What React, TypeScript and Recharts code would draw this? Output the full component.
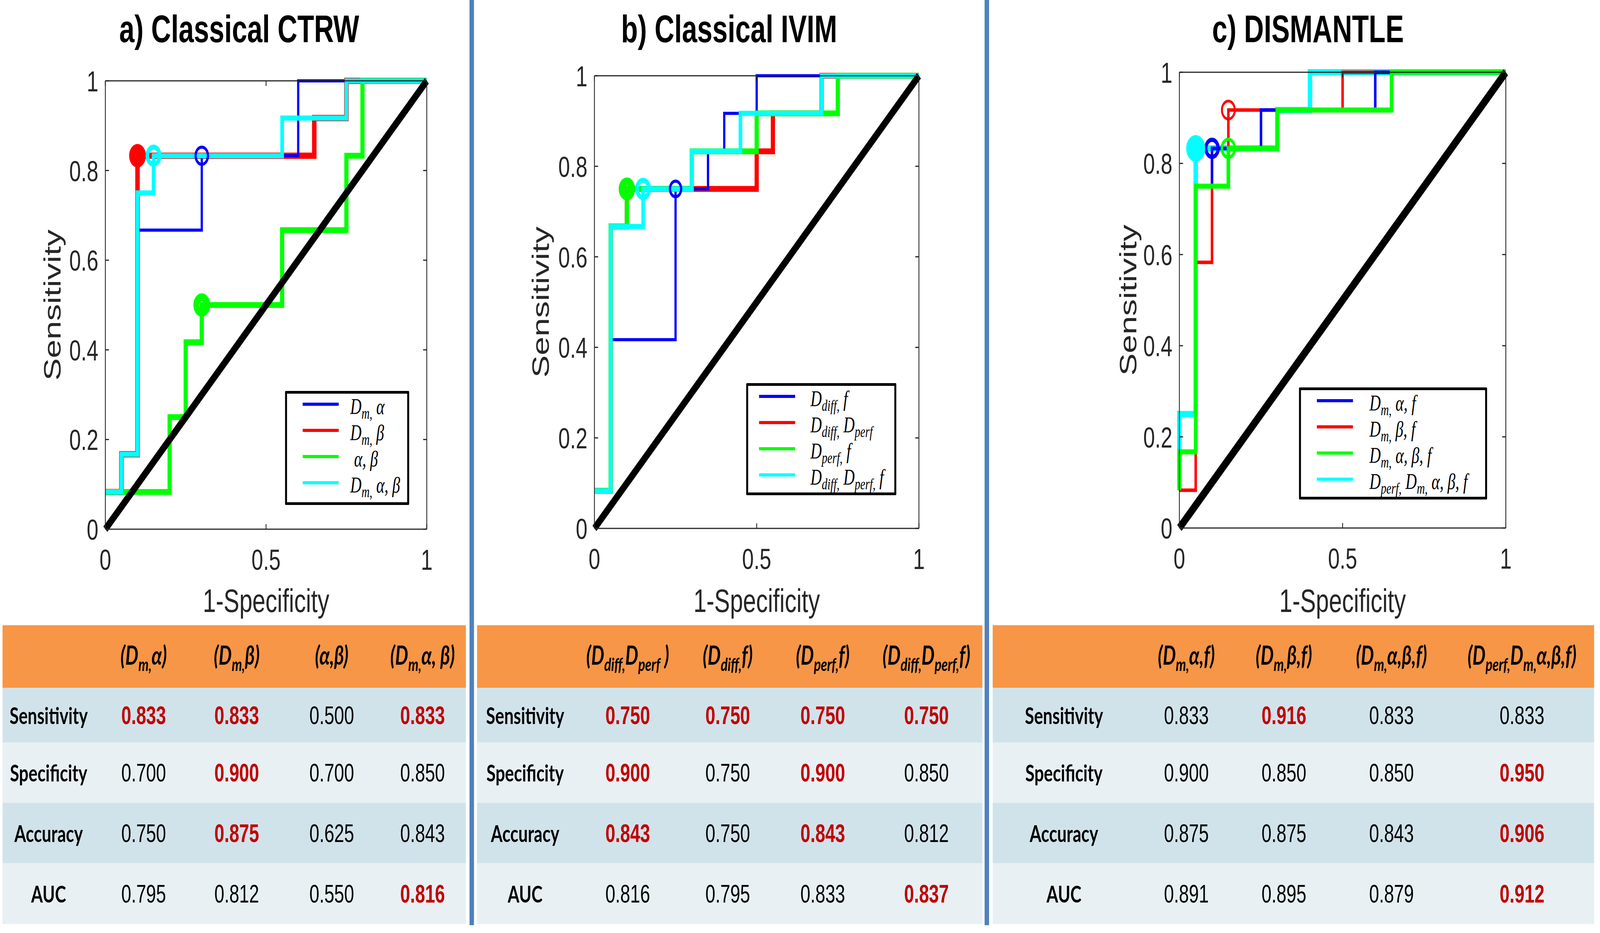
import React from 'react';
import { ComposedChart, Line, Scatter, XAxis, YAxis, Legend } from 'recharts';

type Pt = { x: number; y: number };
const toPts = (a: number[][]): Pt[] => a.map(([x, y]) => ({ x, y }));

const X_TICKS = [0, 0.5, 1];
const Y_TICKS = [0, 0.2, 0.4, 0.6, 0.8, 1];
const DIAGONAL = toPts([[0, 0], [1, 1]]);

// a) Classical CTRW - ROC corners
const ctrwDmAlpha = [[0, 0.083], [0.05, 0.083], [0.05, 0.167], [0.1, 0.167], [0.1, 0.667], [0.3, 0.667], [0.3, 0.833], [0.6, 0.833], [0.6, 1], [1, 1]];
const ctrwDmBeta = [[0, 0.083], [0.05, 0.083], [0.05, 0.167], [0.1, 0.167], [0.1, 0.833], [0.65, 0.833], [0.65, 0.917], [0.75, 0.917], [0.75, 1], [1, 1]];
const ctrwAlphaBeta = [[0, 0.083], [0.2, 0.083], [0.2, 0.25], [0.25, 0.25], [0.25, 0.417], [0.3, 0.417], [0.3, 0.5], [0.55, 0.5], [0.55, 0.667], [0.75, 0.667], [0.75, 0.833], [0.8, 0.833], [0.8, 1], [1, 1]];
const ctrwDmAlphaBeta = [[0, 0.083], [0.05, 0.083], [0.05, 0.167], [0.1, 0.167], [0.1, 0.75], [0.15, 0.75], [0.15, 0.833], [0.55, 0.833], [0.55, 0.917], [0.75, 0.917], [0.75, 1], [1, 1]];
const ctrwOperating = [[0.3, 0.833], [0.1, 0.833], [0.3, 0.5], [0.15, 0.833]];

// b) Classical IVIM
const ivimDiffF = [[0, 0.083], [0.05, 0.083], [0.05, 0.417], [0.25, 0.417], [0.25, 0.75], [0.35, 0.75], [0.35, 0.833], [0.4, 0.833], [0.4, 0.917], [0.5, 0.917], [0.5, 1], [1, 1]];
const ivimDiffPerf = [[0, 0.083], [0.05, 0.083], [0.05, 0.667], [0.1, 0.667], [0.1, 0.75], [0.5, 0.75], [0.5, 0.833], [0.55, 0.833], [0.55, 0.917], [0.7, 0.917], [0.7, 1], [1, 1]];
const ivimPerfF = [[0, 0.083], [0.05, 0.083], [0.05, 0.667], [0.1, 0.667], [0.1, 0.75], [0.3, 0.75], [0.3, 0.833], [0.5, 0.833], [0.5, 0.917], [0.75, 0.917], [0.75, 1], [1, 1]];
const ivimDiffPerfF = [[0, 0.083], [0.05, 0.083], [0.05, 0.667], [0.15, 0.667], [0.15, 0.75], [0.3, 0.75], [0.3, 0.833], [0.45, 0.833], [0.45, 0.917], [0.7, 0.917], [0.7, 1], [1, 1]];
const ivimOperating = [[0.25, 0.75], [0.1, 0.75], [0.1, 0.75], [0.15, 0.75]];

// c) DISMANTLE
const disDmAlphaF = [[0, 0.083], [0, 0.167], [0.05, 0.167], [0.05, 0.75], [0.1, 0.75], [0.1, 0.833], [0.25, 0.833], [0.25, 0.917], [0.6, 0.917], [0.6, 1], [1, 1]];
const disDmBetaF = [[0, 0.083], [0.05, 0.083], [0.05, 0.583], [0.1, 0.583], [0.1, 0.833], [0.15, 0.833], [0.15, 0.917], [0.5, 0.917], [0.5, 1], [1, 1]];
const disDmAlphaBetaF = [[0, 0.083], [0, 0.167], [0.05, 0.167], [0.05, 0.75], [0.15, 0.75], [0.15, 0.833], [0.3, 0.833], [0.3, 0.917], [0.65, 0.917], [0.65, 1], [1, 1]];
const disAll = [[0, 0.083], [0, 0.25], [0.05, 0.25], [0.05, 0.833], [0.3, 0.833], [0.3, 0.917], [0.4, 0.917], [0.4, 1], [1, 1]];
const disOperating = [[0.1, 0.833], [0.15, 0.917], [0.15, 0.833], [0.05, 0.833]];

// legend labels, _{...} is a subscript
const ctrwLegend = ['D_{m,} α', 'D_{m,} β', ' α, β', 'D_{m,} α, β'];
const ivimLegend = ['D_{diff,} f', 'D_{diff,} D_{perf}', 'D_{perf,} f', 'D_{diff,} D_{perf,} f'];
const disLegend = ['D_{m,} α, f', 'D_{m,} β, f', 'D_{m,} α, β, f', 'D_{perf,} D_{m,} α, β, f'];

// tables
const ROW_LABELS = ['Sensitivity', 'Specificity', 'Accuracy', 'AUC'];
const ctrwHeaders = ['(D_{m,}α)', '(D_{m,}β)', '(α,β)', '(D_{m,}α, β)'];
const ctrwSensitivity = [0.833, 0.833, 0.5, 0.833];
const ctrwSpecificity = [0.7, 0.9, 0.7, 0.85];
const ctrwAccuracy = [0.75, 0.875, 0.625, 0.843];
const ctrwAuc = [0.795, 0.812, 0.55, 0.816];

const ivimHeaders = ['(D_{diff,}D_{perf} )', '(D_{diff,}f)', '(D_{perf,}f)', '(D_{diff,}D_{perf,}f)'];
const ivimSensitivity = [0.75, 0.75, 0.75, 0.75];
const ivimSpecificity = [0.9, 0.75, 0.9, 0.85];
const ivimAccuracy = [0.843, 0.75, 0.843, 0.812];
const ivimAuc = [0.816, 0.795, 0.833, 0.837];

const disHeaders = ['(D_{m,}α,f)', '(D_{m,}β,f)', '(D_{m,}α,β,f)', '(D_{perf,}D_{m,}α,β,f)'];
const disSensitivity = [0.833, 0.916, 0.833, 0.833];
const disSpecificity = [0.9, 0.85, 0.85, 0.95];
const disAccuracy = [0.875, 0.875, 0.843, 0.906];
const disAuc = [0.891, 0.895, 0.879, 0.912];

const FIG_W = 5725;
const FIG_H = 2389;
const COLORS = ['#0000ff', '#ff0000', '#00ff00', '#00ffff'];
const AXIS = '#262626';
const SANS = '"Liberation Sans", Arial, Helvetica, sans-serif';
const SERIF = '"Liberation Serif", "Times New Roman", serif';
const LATO = 'Lato, "Open Sans", sans-serif';
const CHART_H = 1600;
const TICK_LEN = 13;

type Series = { data: Pt[]; op: Pt; color: string; width: number; r: number; sw: number; label: string };

const makeSeries = (curves: number[][][], ops: number[][], labels: string[], widths: number[], marks: number[][]): Series[] =>
  curves.map((c, i) => ({
    data: toPts(c),
    op: { x: ops[i][0], y: ops[i][1] },
    color: COLORS[i],
    width: widths[i],
    r: marks[i][0],
    sw: marks[i][1],
    label: labels[i],
  }));

const PANELS = [
  {
    id: 'a', title: 'a) Classical CTRW', titleX: 856, chartLeft: 0, chartW: 1680,
    plot: { x0: 377, x1: 1527, y0: 207, y1: 1355 }, yLabelX: 217, diagW: 20,
    series: makeSeries([ctrwDmAlpha, ctrwDmBeta, ctrwAlphaBeta, ctrwDmAlphaBeta], ctrwOperating, ctrwLegend,
      [8, 16, 15, 13], [[22, 8], [19, 22], [20, 20], [22, 13]]),
    lineOrder: [1, 0, 2, 3],
    legend: { x: 1020, y: 1001, w: 444, h: 292, sampleX: 1083, textX: 1253 },
  },
  {
    id: 'b', title: 'b) Classical IVIM', titleX: 2609, chartLeft: 1700, chartW: 1820,
    plot: { x0: 2127, x1: 3288, y0: 194, y1: 1353 }, yLabelX: 1964, diagW: 20,
    series: makeSeries([ivimDiffF, ivimDiffPerf, ivimPerfF, ivimDiffPerfF], ivimOperating, ivimLegend,
      [8, 15, 15, 13], [[20, 8], [19, 20], [19, 20], [22, 13]]),
    lineOrder: [1, 0, 2, 3],
    legend: { x: 2670, y: 981, w: 537, h: 287, sampleX: 2716, textX: 2900 },
  },
  {
    id: 'c', title: 'c) DISMANTLE', titleX: 4680, chartLeft: 3545, chartW: 2180,
    plot: { x0: 4220, x1: 5388, y0: 185, y1: 1352 }, yLabelX: 4066, diagW: 22,
    series: makeSeries([disDmAlphaF, disDmBetaF, disDmAlphaBetaF, disAll], disOperating, disLegend,
      [9, 9, 13, 16], [[22, 11], [23, 7], [23, 9], [20, 28]]),
    lineOrder: [3, 1, 0, 2],
    legend: { x: 4648, y: 992, w: 673, h: 287, sampleX: 4712, textX: 4900 },
  },
];

const TABLES = [
  { x0: 9, x1: 1667, labelX: 174, colX: [514, 847, 1187, 1512], headers: ctrwHeaders, rows: [ctrwSensitivity, ctrwSpecificity, ctrwAccuracy, ctrwAuc] },
  { x0: 1707, x1: 3515, labelX: 1879, colX: [2246, 2604, 2944, 3315], headers: ivimHeaders, rows: [ivimSensitivity, ivimSpecificity, ivimAccuracy, ivimAuc] },
  { x0: 3552, x1: 5704, labelX: 3807, colX: [4245, 4594, 4979, 5446], headers: disHeaders, rows: [disSensitivity, disSpecificity, disAccuracy, disAuc] },
];
const HEADER_Y0 = 1601;
const ROW_Y = [1761, 1901, 2056, 2210, 2366];

function rich(label: string) {
  const parts: { t: string; sub: boolean }[] = [];
  const re = /_\{([^}]*)\}/g;
  let last = 0;
  let m: RegExpExecArray | null;
  while ((m = re.exec(label))) {
    if (m.index > last) parts.push({ t: label.slice(last, m.index), sub: false });
    parts.push({ t: m[1], sub: true });
    last = re.lastIndex;
  }
  if (last < label.length) parts.push({ t: label.slice(last), sub: false });
  return parts;
}

function svgRich(label: string, size: number, subSize: number, drop: number) {
  let down = false;
  return rich(label).map((p, i) => {
    let dy = 0;
    if (p.sub && !down) { dy = drop; down = true; }
    else if (!p.sub && down) { dy = -drop; down = false; }
    return <tspan key={i} dy={dy} fontSize={p.sub ? subSize : size}>{p.t}</tspan>;
  });
}

const bottomTick = (p: any) => (
  <g>
    <line x1={p.x} x2={p.x} y1={p.y} y2={p.y - TICK_LEN} stroke={AXIS} strokeWidth={3} />
    <text x={p.x} y={p.y + 104} textAnchor="middle" fontFamily={SANS} fontSize={75} fill={AXIS}>{p.payload.value}</text>
  </g>
);
const leftTick = (p: any) => (
  <g>
    <line x1={p.x} x2={p.x + TICK_LEN} y1={p.y} y2={p.y} stroke={AXIS} strokeWidth={3} />
    <text x={p.x - 25} y={p.y + 27} textAnchor="end" fontFamily={SANS} fontSize={75} fill={AXIS}>{p.payload.value}</text>
  </g>
);
const topTick = (p: any) => <line x1={p.x} x2={p.x} y1={p.y} y2={p.y + TICK_LEN} stroke={AXIS} strokeWidth={3} />;
const rightTick = (p: any) => <line x1={p.x} x2={p.x - TICK_LEN} y1={p.y} y2={p.y} stroke={AXIS} strokeWidth={3} />;

function LegendBox({ panel }: { panel: (typeof PANELS)[number] }) {
  const L = panel.legend;
  const B = 7;
  return (
    <div style={{ width: L.w, height: L.h, boxSizing: 'border-box', border: `${B}px solid #000`, borderRadius: 3, background: '#fff', position: 'relative' }}>
      {panel.series.map((s, i) => {
        const rowY = 34 + i * 67 - B;
        return (
          <React.Fragment key={i}>
            <div style={{ position: 'absolute', left: L.sampleX - L.x - B, top: rowY - 4, width: 129, height: 8, background: s.color }} />
            <div style={{ position: 'absolute', left: L.textX - L.x - B, top: rowY + 25 - 47, fontFamily: SERIF, fontStyle: 'italic', fontSize: 56, lineHeight: 1, whiteSpace: 'pre', color: '#000' }}>
              {rich(s.label).map((p, k) =>
                p.sub
                  ? <span key={k} style={{ fontSize: 40, position: 'relative', top: 12 }}>{p.t}</span>
                  : <span key={k}>{p.t}</span>
              )}
            </div>
          </React.Fragment>
        );
      })}
    </div>
  );
}

function RocPanel({ panel }: { panel: (typeof PANELS)[number] }) {
  const { plot, chartLeft, chartW } = panel;
  // each axis takes 1px of room, so the margins give that back
  const margin = { left: plot.x0 - chartLeft - 1, right: chartLeft + chartW - plot.x1 - 1, top: plot.y0 - 1, bottom: CHART_H - plot.y1 - 1 };
  const axisLine = { stroke: AXIS, strokeWidth: 3 };
  return (
    <div style={{ position: 'absolute', left: chartLeft, top: 0 }}>
      <ComposedChart width={chartW} height={CHART_H} margin={margin}>
        <XAxis dataKey="x" type="number" domain={[0, 1]} ticks={X_TICKS} interval={0} height={1} tickSize={0} tickMargin={0} tickLine={false} axisLine={axisLine} tick={bottomTick} />
        <YAxis dataKey="y" type="number" domain={[0, 1]} ticks={Y_TICKS} interval={0} width={1} tickSize={0} tickMargin={0} tickLine={false} axisLine={axisLine} tick={leftTick} />
        <XAxis xAxisId="top" orientation="top" dataKey="x" type="number" domain={[0, 1]} allowDataOverflow ticks={X_TICKS} interval={0} height={1} tickSize={0} tickMargin={0} tickLine={false} axisLine={axisLine} tick={topTick} />
        <YAxis yAxisId="right" orientation="right" dataKey="y" type="number" domain={[0, 1]} allowDataOverflow ticks={Y_TICKS} interval={0} width={1} tickSize={0} tickMargin={0} tickLine={false} axisLine={axisLine} tick={rightTick} />
        {panel.lineOrder.map((i) => {
          const s = panel.series[i];
          return <Line key={`l${i}`} data={s.data} dataKey="y" type="linear" stroke={s.color} strokeWidth={s.width} dot={false} activeDot={false} isAnimationActive={false} />;
        })}
        <Line data={DIAGONAL} dataKey="y" type="linear" stroke="#000" strokeWidth={panel.diagW} dot={false} activeDot={false} isAnimationActive={false} />
        {[1, 0, 2, 3].map((i) => {
          const s = panel.series[i];
          return (
            <Scatter key={`m${i}`} data={[s.op]} dataKey="y" isAnimationActive={false}
              shape={(p: any) => <circle cx={p.cx} cy={p.cy} r={s.r} fill="none" stroke={s.color} strokeWidth={s.sw} />} />
          );
        })}
        <Legend layout="horizontal" verticalAlign="middle" align="center"
          wrapperStyle={{ left: panel.legend.x - chartLeft, top: panel.legend.y, width: panel.legend.w, height: panel.legend.h }}
          content={() => <LegendBox panel={panel} />} />
      </ComposedChart>
    </div>
  );
}

function Table({ t }: { t: (typeof TABLES)[number] }) {
  return (
    <g>
      <rect x={t.x0} y={HEADER_Y0} width={t.x1 - t.x0} height={ROW_Y[0] - HEADER_Y0} fill="#F79646" />
      {ROW_LABELS.map((lab, r) => {
        const y0 = ROW_Y[r];
        const y1 = ROW_Y[r + 1];
        const base = (y0 + y1) / 2 + 23;
        const best = Math.max(...t.rows[r]);
        return (
          <g key={lab}>
            <rect x={t.x0} y={y0} width={t.x1 - t.x0} height={y1 - y0} fill={r % 2 === 0 ? '#D1E3EA' : '#E8F0F3'} />
            <text x={t.labelX} y={base} textAnchor="middle" fontFamily={LATO} fontWeight={700} fontSize={60} fill="#000">{lab}</text>
            {t.rows[r].map((v, c) => (
              <text key={c} x={t.colX[c]} y={base} textAnchor="middle" fontFamily={SANS} fontSize={64}
                fontWeight={v === best ? 700 : 400} fill={v === best ? '#C00000' : '#000'}>{v.toFixed(3)}</text>
            ))}
          </g>
        );
      })}
      {t.headers.map((h, c) => (
        <text key={c} x={t.colX[c]} y={1702} textAnchor="middle" fontFamily={LATO} fontStyle="italic" fontWeight={700} fontSize={66} fill="#000">
          {svgRich(h, 66, 46, 16)}
        </text>
      ))}
    </g>
  );
}

export default function App() {
  // the window may come out narrower than the figure: fit the figure to it
  const vw = typeof window !== 'undefined' ? window.innerWidth : FIG_W;
  const vh = typeof window !== 'undefined' ? window.innerHeight : FIG_H;
  const sx = Math.min(1, vw / FIG_W);
  const sy = Math.min(1, vh / FIG_H);
  return (
    <div style={{ position: 'absolute', left: 0, top: 0, width: Math.min(vw, FIG_W), height: Math.min(vh, FIG_H), overflow: 'hidden', background: '#fff' }}>
      <div style={{ position: 'absolute', left: 0, top: 0, width: FIG_W, height: FIG_H, background: '#fff', transform: `scale(${sx}, ${sy})`, transformOrigin: '0 0' }}>
        {PANELS.map((p) => <RocPanel key={p.id} panel={p} />)}
        <svg width={FIG_W} height={FIG_H} style={{ position: 'absolute', left: 0, top: 0, pointerEvents: 'none' }}>
          {PANELS.map((p) => {
            const cx = (p.plot.x0 + p.plot.x1) / 2;
            const cy = (p.plot.y0 + p.plot.y1) / 2;
            return (
              <g key={p.id}>
                <text x={p.titleX} y={108} textAnchor="middle" fontFamily={SANS} fontWeight={700} fontSize={98} fill="#000">{p.title}</text>
                <text x={cx} y={1567} textAnchor="middle" fontFamily={SANS} fontSize={84} fill={AXIS}>1-Specificity</text>
                <text x={p.yLabelX} y={cy} transform={`rotate(-90 ${p.yLabelX} ${cy})`} textAnchor="middle" fontFamily={SANS} fontSize={86} fill={AXIS}>Sensitivity</text>
              </g>
            );
          })}
          {TABLES.map((t, i) => <Table key={i} t={t} />)}
          <rect x={1680} y={0} width={16} height={2369} fill="#4F81BD" />
          <rect x={3523} y={0} width={16} height={2369} fill="#4F81BD" />
        </svg>
      </div>
    </div>
  );
}
